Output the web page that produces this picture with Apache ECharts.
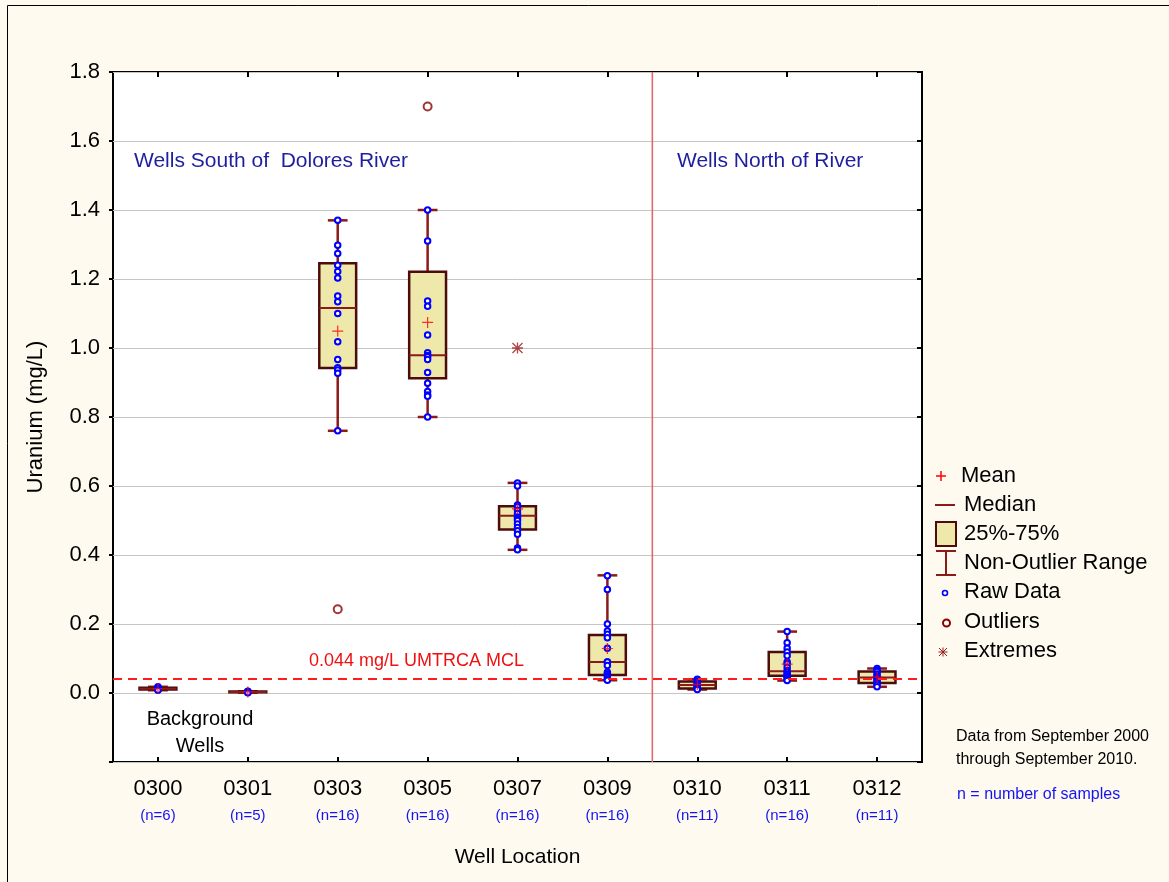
<!DOCTYPE html>
<html>
<head>
<meta charset="utf-8">
<script src="https://cdn.jsdelivr.net/npm/echarts@6/dist/echarts.min.js"></script>
<style>
  html, body { margin: 0; padding: 0; background: #FEFAEF; }
  #chart { width: 1169px; height: 882px; }
</style>
</head>
<body>
<div id="chart"></div>
<script>
// Well names and sample counts
const wells = ['0300', '0301', '0303', '0305', '0307', '0309', '0310', '0311', '0312'];
const sampleCounts = [6, 5, 16, 16, 16, 16, 11, 16, 11];

// Box statistics per well (mg/L)
const whiskerLow  = [0.008, 0.001, 0.760, 0.800, 0.415, 0.037, 0.010, 0.036, 0.018];
const quartile1   = [0.010, 0.002, 0.942, 0.912, 0.474, 0.052, 0.013, 0.050, 0.029];
const medians     = [0.012, 0.003, 1.116, 0.979, 0.514, 0.090, 0.023, 0.063, 0.045];
const quartile3   = [0.015, 0.004, 1.246, 1.221, 0.541, 0.168, 0.033, 0.119, 0.062];
const whiskerHigh = [0.018, 0.005, 1.370, 1.400, 0.609, 0.341, 0.040, 0.178, 0.071];
const means       = [0.013, 0.003, 1.049, 1.074, 0.534, 0.129, 0.025, 0.084, 0.046];

// Raw sample results (non-outlier values) per well
const raw0300 = [0.018, 0.015, 0.013, 0.012, 0.010, 0.008];
const raw0301 = [0.005, 0.004, 0.003, 0.002, 0.001];
const raw0303 = [1.370, 1.298, 1.274, 1.240, 1.222, 1.203, 1.151, 1.134, 1.100, 1.018, 0.967, 0.943, 0.936, 0.927, 0.760];
const raw0305 = [1.400, 1.310, 1.136, 1.121, 1.038, 0.986, 0.978, 0.975, 0.967, 0.929, 0.898, 0.874, 0.864, 0.860, 0.800];
const raw0307 = [0.609, 0.600, 0.545, 0.540, 0.530, 0.520, 0.510, 0.505, 0.500, 0.490, 0.480, 0.470, 0.460, 0.420, 0.415];
const raw0309 = [0.340, 0.300, 0.200, 0.180, 0.170, 0.160, 0.130, 0.090, 0.090, 0.080, 0.060, 0.055, 0.050, 0.045, 0.040, 0.037];
const raw0310 = [0.040, 0.035, 0.030, 0.028, 0.025, 0.022, 0.020, 0.018, 0.015, 0.012, 0.010];
const raw0311 = [0.178, 0.146, 0.130, 0.119, 0.108, 0.090, 0.085, 0.075, 0.065, 0.060, 0.055, 0.050, 0.048, 0.045, 0.040, 0.036];
const raw0312 = [0.071, 0.065, 0.062, 0.055, 0.050, 0.045, 0.040, 0.035, 0.030, 0.025, 0.018];
const rawByWell = [raw0300, raw0301, raw0303, raw0305, raw0307, raw0309, raw0310, raw0311, raw0312];

// Outliers and extremes: [well index, value]
const outliers = [[2, 0.243], [3, 1.700]];
const extremes = [[4, 1.000]];

// Regulatory limit and the north/south split position (between 0309 and 0310)
const mclValue = 0.044;
const riverSplit = 5.5;

// Y axis ticks
const yMin = -0.2, yMax = 1.8, yStep = 0.2;

const FONT = '"Liberation Sans", Arial, Helvetica, sans-serif';
const BOX_FILL = '#EEE8AA';
const BOX_EDGE = '#4E0B0B';
const WHISKER = '#8B1A1A';

const boxData = wells.map((w, i) => [i, whiskerLow[i], quartile1[i], medians[i], quartile3[i], whiskerHigh[i]]);
const rawData = [];
rawByWell.forEach((vals, i) => vals.forEach(v => rawData.push([i, v])));
const meanData = means.map((m, i) => [i, m]);

const plusPath = 'path://M4.45 0H5.55V10H4.45ZM0 4.45H10V5.55H0Z';
const starPath = 'path://M4.4 0H5.6V10H4.4ZM0 4.4H10V5.6H0ZM0.85 0L10 9.15L9.15 10L0 0.85ZM9.15 0L10 0.85L0.85 10L0 9.15Z';

const chart = echarts.init(document.getElementById('chart'), null, { renderer: 'canvas' });

const tickStyle = { color: '#000', width: 2 };

const option = {
  backgroundColor: '#FEFAEF',
  animation: false,
  textStyle: { fontFamily: FONT },
  grid: {
    left: 113, right: 247, top: 72, bottom: 120,
    show: true, backgroundColor: '#FFFFFF', borderColor: '#000000', borderWidth: 2
  },
  xAxis: [
    {
      type: 'category', data: wells, position: 'bottom',
      axisLine: { show: false, onZero: false },
      axisTick: { show: true, inside: true, alignWithLabel: true, length: 5, lineStyle: tickStyle },
      axisLabel: {
        margin: 14, interval: 0,
        formatter: (v, i) => '{a|' + v + '}\n{b|(n=' + sampleCounts[i] + ')}',
        rich: {
          a: { fontSize: 22, lineHeight: 26, color: '#000', fontFamily: FONT },
          b: { fontSize: 15, lineHeight: 28, color: '#1414F0', fontFamily: FONT }
        }
      },
      name: 'Well Location', nameLocation: 'middle', nameGap: 85,
      nameTextStyle: { fontSize: 21, color: '#000', fontFamily: FONT },
      splitLine: { show: false }
    },
    {
      type: 'category', data: wells, position: 'top',
      axisLine: { show: false, onZero: false },
      axisTick: { show: true, inside: true, alignWithLabel: true, length: 5, lineStyle: tickStyle },
      axisLabel: { show: false },
      splitLine: { show: false }
    },
    { type: 'value', min: -0.5, max: 8.5, show: false, axisLine: { onZero: false } }
  ],
  yAxis: [
    {
      type: 'value', min: yMin, max: yMax, interval: yStep, position: 'left',
      axisLine: { show: false, onZero: false },
      axisTick: { show: true, inside: false, length: 4, lineStyle: tickStyle },
      axisLabel: {
        fontSize: 22, color: '#000', margin: 13, fontFamily: FONT,
        formatter: v => (v < -0.1 ? '' : v.toFixed(1))
      },
      splitLine: { show: true, lineStyle: { color: '#C4C4C4', width: 1 } },
      name: 'Uranium (mg/L)', nameLocation: 'middle', nameGap: 66, nameRotate: 90,
      nameTextStyle: { fontSize: 22, color: '#000', fontFamily: FONT }
    },
    {
      type: 'value', min: yMin, max: yMax, interval: yStep, position: 'right',
      axisLine: { show: false, onZero: false },
      axisTick: { show: true, inside: true, length: 5, lineStyle: tickStyle },
      axisLabel: { show: false },
      splitLine: { show: false }
    }
  ],
  series: [
    {
      // boxes with whiskers and median
      type: 'custom', name: 'box', xAxisIndex: 0, yAxisIndex: 0, z: 2,
      data: boxData,
      encode: { x: 0, y: [1, 2, 3, 4, 5] },
      renderItem: (params, api) => {
        const x = api.value(0);
        const lo = api.coord([x, api.value(1)]);
        const q1 = api.coord([x, api.value(2)]);
        const md = api.coord([x, api.value(3)]);
        const q3 = api.coord([x, api.value(4)]);
        const hi = api.coord([x, api.value(5)]);
        const band = api.size([1, 0])[0];
        const bw = band * 0.41;
        const cw = band * 0.22;
        const cx = lo[0];
        return {
          type: 'group',
          children: [
            { type: 'line', shape: { x1: cx, y1: hi[1], x2: cx, y2: lo[1] }, style: { stroke: WHISKER, lineWidth: 2.5 } },
            { type: 'line', shape: { x1: cx - cw / 2, y1: hi[1], x2: cx + cw / 2, y2: hi[1] }, style: { stroke: WHISKER, lineWidth: 2.5 } },
            { type: 'line', shape: { x1: cx - cw / 2, y1: lo[1], x2: cx + cw / 2, y2: lo[1] }, style: { stroke: WHISKER, lineWidth: 2.5 } },
            { type: 'rect', shape: { x: cx - bw / 2, y: q3[1], width: bw, height: Math.max(q1[1] - q3[1], 0.5) }, style: { fill: BOX_FILL, stroke: BOX_EDGE, lineWidth: 2.5 } },
            { type: 'line', shape: { x1: cx - bw / 2, y1: md[1], x2: cx + bw / 2, y2: md[1] }, style: { stroke: WHISKER, lineWidth: 2 } }
          ]
        };
      }
    },
    {
      // north/south divider and the MCL reference line
      type: 'custom', name: 'divider', xAxisIndex: 2, yAxisIndex: 0, z: 2.5,
      data: [[riverSplit, 0]],
      renderItem: (params, api) => {
        const p = api.coord([api.value(0), 0]);
        const cs = params.coordSys;
        return {
          type: 'line',
          shape: { x1: p[0], y1: cs.y, x2: p[0], y2: cs.y + cs.height },
          style: { stroke: '#E26A6A', lineWidth: 1.6 }
        };
      },
      markLine: {
        silent: true, symbol: ['none', 'none'],
        lineStyle: { color: '#FF1C1C', type: [9, 6], width: 2 },
        label: { show: false },
        data: [{ yAxis: mclValue }]
      }
    },
    {
      type: 'scatter', name: 'Raw Data', xAxisIndex: 0, yAxisIndex: 0, z: 3,
      data: rawData, symbol: 'circle', symbolSize: 5.5,
      itemStyle: { color: '#FFFFFF', borderColor: '#0000FF', borderWidth: 2, opacity: 1 },
      silent: true
    },
    {
      type: 'scatter', name: 'Mean', xAxisIndex: 0, yAxisIndex: 0, z: 4,
      data: meanData, symbol: plusPath, symbolSize: 11,
      itemStyle: { color: '#FF0000' }, silent: true
    },
    {
      type: 'scatter', name: 'Outliers', xAxisIndex: 0, yAxisIndex: 0, z: 4,
      data: outliers, symbol: 'circle', symbolSize: 8,
      itemStyle: { color: '#FFFFFF', borderColor: '#8B0000', borderWidth: 2 }, silent: true
    },
    {
      type: 'scatter', name: 'Extremes', xAxisIndex: 0, yAxisIndex: 0, z: 4,
      data: extremes, symbol: starPath, symbolSize: 11,
      itemStyle: { color: '#9B1C1C' }, silent: true
    }
  ]
};

chart.setOption(option);

// annotations and the symbol key
const mclY = chart.convertToPixel({ yAxisIndex: 0 }, mclValue);

function label(x, y, text, size, color, extra) {
  return {
    type: 'text', x: x, y: y, z: 10,
    style: Object.assign({ text: text, fontSize: size, fill: color, fontFamily: FONT, verticalAlign: 'middle', align: 'left' }, extra || {})
  };
}
function seg(x1, y1, x2, y2, color, w) {
  return { type: 'line', z: 10, shape: { x1: x1, y1: y1, x2: x2, y2: y2 }, style: { stroke: color, lineWidth: w } };
}

const legendRows = [476, 505, 534, 563, 592, 622, 651];
const legendNames = ['Mean', 'Median', '25%-75%', 'Non-Outlier Range', 'Raw Data', 'Outliers', 'Extremes'];
const legendText = legendNames.map((t, i) => label(i === 0 ? 961 : 964, legendRows[i], t, 22, '#000'));

const ax = 943, ay = 652;
const key = [
  seg(936, 476, 946, 476, '#FF0000', 1.5),
  seg(941, 471, 941, 481, '#FF0000', 1.5),
  seg(935, 505, 955, 505, WHISKER, 2),
  { type: 'rect', z: 10, shape: { x: 936, y: 522, width: 20, height: 24 }, style: { fill: BOX_FILL, stroke: BOX_EDGE, lineWidth: 2 } },
  seg(946, 551, 946, 575, WHISKER, 2),
  seg(936, 551, 956, 551, WHISKER, 2),
  seg(936, 575, 956, 575, WHISKER, 2),
  { type: 'circle', z: 10, shape: { cx: 945, cy: 593, r: 2.5 }, style: { fill: '#FFFFFF', stroke: '#0000FF', lineWidth: 1.6 } },
  { type: 'circle', z: 10, shape: { cx: 946.5, cy: 623, r: 3.5 }, style: { fill: 'none', stroke: '#8B0000', lineWidth: 2 } },
  seg(ax - 4.5, ay, ax + 4.5, ay, '#9B1C1C', 1),
  seg(ax, ay - 4.5, ax, ay + 4.5, '#9B1C1C', 1),
  seg(ax - 4, ay - 4, ax + 4, ay + 4, '#9B1C1C', 1),
  seg(ax + 4, ay - 4, ax - 4, ay + 4, '#9B1C1C', 1)
];

chart.setOption({
  graphic: [
    // page frame
    seg(7.5, 5.5, 1169, 5.5, '#000', 1),
    seg(7.5, 5.5, 7.5, 882, '#000', 1),
    label(134, 161, 'Wells South of  Dolores River', 21, '#1E1E9E'),
    label(677, 161, 'Wells North of River', 21, '#1E1E9E'),
    label(309, mclY - 17, mclValue.toFixed(3) + ' mg/L UMTRCA MCL', 18, '#F01010'),
    label(200, 719, 'Background', 20, '#000', { align: 'center' }),
    label(200, 746, 'Wells', 20, '#000', { align: 'center' }),
    label(956, 737, 'Data from September 2000', 16, '#000'),
    label(956, 760, 'through September 2010.', 16, '#000'),
    label(957, 795, 'n = number of samples', 16, '#1414F0'),
    ...key,
    ...legendText
  ]
});
</script>
</body>
</html>
